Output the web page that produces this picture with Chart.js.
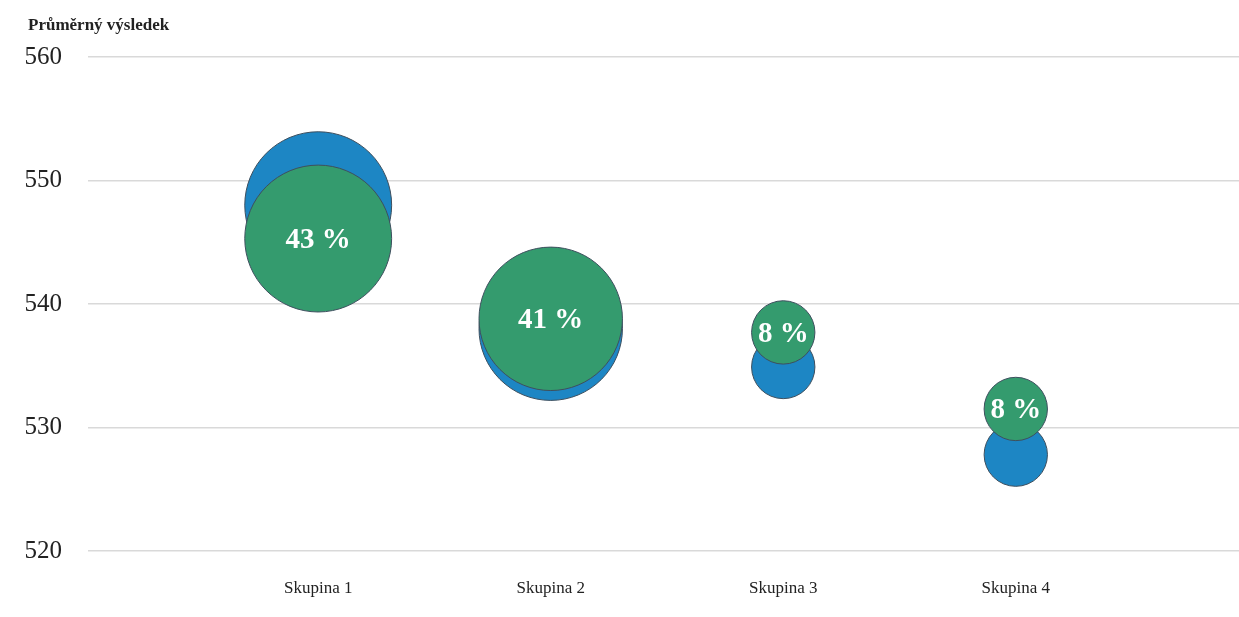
<!DOCTYPE html>
<html lang="cs">
<head>
<meta charset="utf-8">
<title>Průměrný výsledek</title>
<script src="https://cdn.jsdelivr.net/npm/chart.js@4"></script>
<style>
  html, body { margin: 0; padding: 0; background: #fff; }
  #wrap { width: 1239px; height: 617px; position: relative; }
</style>
</head>
<body>
<div id="wrap"><canvas id="chart"></canvas></div>
<script>
const categories = ["Skupina 1", "Skupina 2", "Skupina 3", "Skupina 4"];
const blueScores = [548.0, 538.0, 534.9, 527.8];
const blueShares = [43, 41, 8, 8];
const greenScores = [545.3, 538.8, 537.7, 531.5];
const greenShares = [43, 41, 8, 8];
const yTicks = [520, 530, 540, 550, 560];

const FONT = "'Liberation Serif', 'Times New Roman', serif";
const BUBBLE_SCALE = 11.2; // px radius per sqrt(percent)

const toPoints = (scores, shares) =>
  scores.map((y, i) => ({ x: i + 1, y: y, share: shares[i] }));

const bubbleRadius = (ctx) => {
  const raw = ctx.raw;
  return raw ? BUBBLE_SCALE * Math.sqrt(raw.share) : 0;
};

// white percent labels in the green bubbles
const shareLabels = {
  id: "shareLabels",
  afterDatasetsDraw(chart) {
    const ctx = chart.ctx;
    chart.data.datasets.forEach((ds, di) => {
      if (!ds.showLabels) return;
      const meta = chart.getDatasetMeta(di);
      meta.data.forEach((el, i) => {
        ctx.save();
        ctx.fillStyle = "#ffffff";
        ctx.font = "bold 29px " + FONT;
        ctx.textAlign = "center";
        ctx.textBaseline = "middle";
        ctx.fillText(ds.data[i].share + " %", el.x, el.y + 2);
        ctx.restore();
      });
    });
  },
};

// axis title at top left
const cornerTitle = {
  id: "cornerTitle",
  afterDraw(chart) {
    const ctx = chart.ctx;
    ctx.save();
    ctx.fillStyle = "#222222";
    ctx.font = "bold 17px " + FONT;
    ctx.textAlign = "left";
    ctx.textBaseline = "middle";
    ctx.fillText("Průměrný výsledek", 28, 26);
    ctx.restore();
  },
};

const myChart = new Chart(document.getElementById("chart"), {
  type: "bubble",
  plugins: [shareLabels, cornerTitle],
  data: {
    datasets: [
      {
        label: "podíl",
        data: toPoints(greenScores, greenShares),
        backgroundColor: "#349B6E",
        borderColor: "#3E4F5E",
        borderWidth: 1,
        order: 0,
        showLabels: true,
      },
      {
        label: "výsledek",
        data: toPoints(blueScores, blueShares),
        backgroundColor: "#1D86C4",
        borderColor: "#3E4F5E",
        borderWidth: 1,
        order: 1,
      },
    ],
  },
  options: {
    responsive: true,
    maintainAspectRatio: false,
    animation: false,
    clip: false,
    layout: { autoPadding: false, padding: { top: 57, right: 0, bottom: 0, left: 0 } },
    elements: { point: { radius: bubbleRadius, hoverRadius: bubbleRadius } },
    plugins: {
      legend: { display: false },
      tooltip: { enabled: false },
      title: { display: false },
    },
    scales: {
      x: {
        type: "linear",
        min: 0.01,
        max: 4.96,
        grid: { display: false },
        border: { display: false },
        afterBuildTicks: (axis) => {
          axis.ticks = categories.map((_, i) => ({ value: i + 1 }));
        },
        afterFit: (axis) => { axis.height = 66; },
        ticks: {
          padding: 19,
          color: "#222222",
          font: { family: FONT, size: 17 },
          callback: (v) => categories[v - 1] || "",
          maxRotation: 0,
          autoSkip: false,
        },
      },
      y: {
        min: yTicks[0],
        max: yTicks[yTicks.length - 1],
        afterBuildTicks: (axis) => {
          axis.ticks = yTicks.map((v) => ({ value: v }));
        },
        afterFit: (axis) => { axis.width = 88; },
        border: { display: false },
        grid: { color: "#D9D9D9", lineWidth: 1.5, drawTicks: false },
        ticks: {
          padding: 26,
          color: "#222222",
          font: { family: FONT, size: 25 },
        },
      },
    },
  },
});
</script>
</body>
</html>
